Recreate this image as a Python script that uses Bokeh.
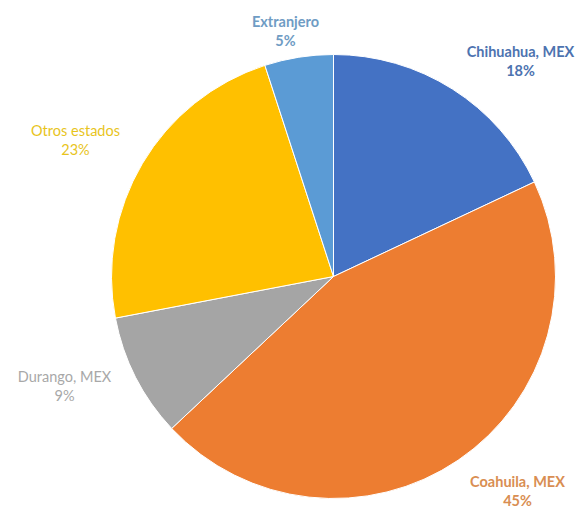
from math import pi
from bokeh.plotting import figure
from bokeh.models import Range1d, ColumnDataSource
from bokeh.core.properties import value
from bokeh.embed import file_html
from bokeh.resources import INLINE

# ---- data ----
categories = ["Chihuahua, MEX", "Coahuila, MEX", "Durango, MEX", "Otros estados", "Extranjero"]
percents = [18, 45, 9, 23, 5]

# ---- style / layout ----
slice_colors = ["#4472C4", "#ED7D31", "#A5A5A5", "#FFC000", "#5B9BD5"]
label_colors = ["#4d73b0", "#d98e52", "#a8a8a8", "#e8c41c", "#6f9cc4"]
label_weights = ["bold", "bold", "normal", "normal", "bold"]
# label anchor positions in page pixels (x, y of the name line)
label_pos = [(520, 51), (517, 481), (64, 376), (75, 130), (285, 21)]
W, H = 585, 510
CX, CY, R = 333, 276, 222

total = float(sum(percents))
starts, ends = [], []
cum = 0.0
for v in percents:
    starts.append(pi / 2 - 2 * pi * cum / total)
    cum += v
    ends.append(pi / 2 - 2 * pi * cum / total)

src = ColumnDataSource(dict(cat=categories, val=percents, start=starts, end=ends, color=slice_colors))

p = figure(width=W, height=H, x_range=Range1d(0, W), y_range=Range1d(0, H),
           output_backend="svg", toolbar_location=None, min_border=0)
p.axis.visible = False
p.grid.visible = False
p.outline_line_color = None
p.background_fill_color = "white"
p.border_fill_color = "white"

p.wedge(x=CX, y=H - CY, radius=R, start_angle="start", end_angle="end",
        direction="clock", fill_color="color", line_color="white", line_width=1, source=src)

for cat, v, col, wt, (lx, ly) in zip(categories, percents, label_colors, label_weights, label_pos):
    p.text(x=[lx], y=[H - ly], text=[cat], text_color=col, text_font=value("Lato"),
           text_font_size="14.5px", text_font_style=wt, text_align="center", text_baseline="middle")
    p.text(x=[lx], y=[H - ly - 19], text=[f"{v}%"], text_color=col, text_font=value("Lato"),
           text_font_size="14.5px", text_font_style=wt, text_align="center", text_baseline="middle")

open("out.html", "w").write(file_html(p, INLINE))
